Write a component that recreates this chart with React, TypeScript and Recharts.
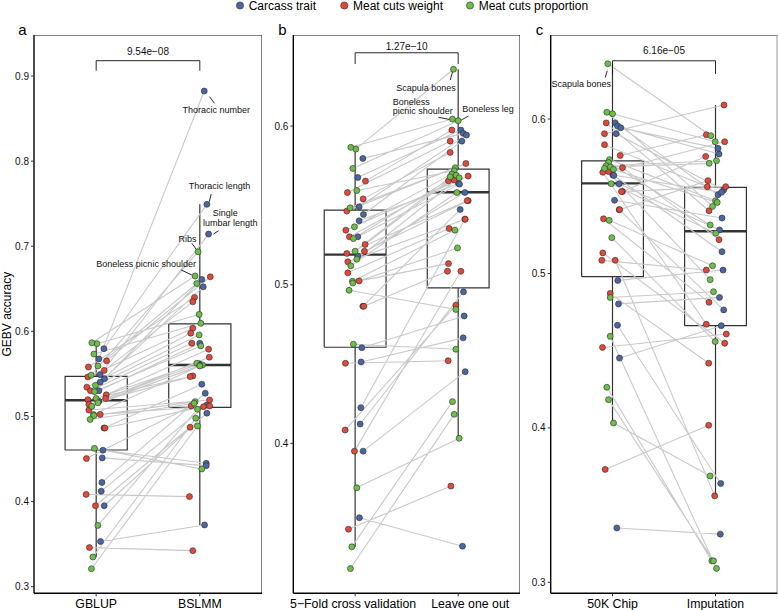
import React from 'react';
import { ComposedChart, Line, Scatter, XAxis, YAxis } from 'recharts';

const FONT = '"Liberation Sans", Arial, Helvetica, sans-serif';

const groupNames = ['Carcass trait', 'Meat cuts weight', 'Meat cuts proportion'];
const groupColors = ['#4B67A3', '#E1493A', '#6CBF49'];

// 0 = carcass trait, 1 = meat cuts weight, 2 = meat cuts proportion
const traitGroup = [
  2, 2, 2, 2, 2, 2, 2, 2, 2, 2, 2, 2, 2, 2, 2, 2, 2,
  0, 0, 0, 0, 0, 0, 0, 0, 0, 0, 0, 0, 0, 0,
  1, 1, 1, 1, 1, 1, 1, 1, 1, 1, 1, 1, 1, 1, 1, 1, 1,
];

// GBLUP = 5-fold cross validation
const gblupAcc = [
  0.5855, 0.5866, 0.5733, 0.5485, 0.5594, 0.5365, 0.5291, 0.5211, 0.5161, 0.5119, 0.5022, 0.5011, 0.4965, 0.4625, 0.372, 0.3348, 0.3211,
  0.5676, 0.5796, 0.5491, 0.5443, 0.5403, 0.5302, 0.518, 0.4864, 0.4225, 0.4122, 0.4603, 0.4513, 0.3951, 0.3531,
  0.5653, 0.5581, 0.5541, 0.5464, 0.5344, 0.5302, 0.5254, 0.5211, 0.5197, 0.5144, 0.5075, 0.5024, 0.4864, 0.4505, 0.4084, 0.3951, 0.3459,
];
const bslmmAcc = [
  0.6199, 0.665, 0.6094, 0.6935, 0.6562, 0.5958, 0.5829, 0.5625, 0.5605, 0.56, 0.5593, 0.5174, 0.5155, 0.4383, 0.5085, 0.4979, 0.4888,
  0.8824, 0.7492, 0.7143, 0.661, 0.6523, 0.586, 0.5618, 0.5378, 0.5273, 0.5135, 0.445, 0.4422, 0.5038, 0.3725,
  0.6641, 0.6399, 0.6347, 0.6036, 0.5978, 0.586, 0.579, 0.5696, 0.5476, 0.5468, 0.5194, 0.5123, 0.5115, 0.5123, 0.4058, 0.4873, 0.3423,
];
// Leave one out = 50K Chip
const looAcc = [
  0.6358, 0.6044, 0.6034, 0.5737, 0.5718, 0.5697, 0.569, 0.568, 0.5674, 0.5581, 0.5344, 0.5232, 0.4844, 0.4593, 0.4032, 0.4263, 0.4183,
  0.5975, 0.5954, 0.5943, 0.5905, 0.5638, 0.5634, 0.5581, 0.5474, 0.5413, 0.4955, 0.4803, 0.4665, 0.4452, 0.3352,
  0.5975, 0.5905, 0.5834, 0.5764, 0.5685, 0.566, 0.5655, 0.553, 0.553, 0.5413, 0.5354, 0.5133, 0.5085, 0.4521, 0.4871, 0.5085, 0.3731,
];
const imputationAcc = [
  0.5892, 0.5434, 0.5853, 0.5471, 0.5314, 0.573, 0.5713, 0.496, 0.546, 0.526, 0.505, 0.4559, 0.4882, 0.309, 0.3689, 0.3139, 0.3139,
  0.551, 0.5773, 0.581, 0.554, 0.5525, 0.5141, 0.5282, 0.5359, 0.4764, 0.5022, 0.4845, 0.364, 0.4662, 0.3312,
  0.5406, 0.6091, 0.5562, 0.5898, 0.5219, 0.5853, 0.4671, 0.5758, 0.5562, 0.5601, 0.4813, 0.4548, 0.5022, 0.4608, 0.4419, 0.356, 0.4017,
];

// horizontal jitter of each point (hundredths of a category step)
const gblupJitter = [
  0.7, -4.3, -2.3, -5, 1.7, -0.7, -1.7, 0, 1.7, -4.3, -2.7, -2.3, -6, -1.7, 1.7, -3.3, -4.7,
  2.7, 7.7, 4, 8.3, 4, 2.7, 2.7, 7.7, 5.7, 5, 6.7, 6, 8, 4.3,
  10.3, -7.7, 8, -8.3, -9.3, -5.7, 10, 9.3, -8.3, -7.3, -7.3, 4, 8.7, -9.7, -10, -0.7, -6.7,
];
const bslmmJitter = [
  -0.7, -4.7, 1, -1.7, -3, -0.7, 1, -3, 2.7, 0, 0, -4.7, -5.7, 2, -2.3, -4, -2.3,
  4.4, 7, 8.7, 2, 3.4, 0, -0.6, 2, 5.4, 7, 6.4, 6.4, 7, 4.7,
  10.4, -5.3, -7, -7, -9, -8, 8.7, 9.4, -7, -9.6, 9.7, 9.7, 3.7, -8.6, -10.3, -9.6, -7,
];
const looJitter = [
  -4.7, -5.7, 0, -3, -4, -6.3, -2, -8, 1, -1.3, -3.3, -0.7, -2.3, -2.3, 1, -5.7, -4,
  2.7, 5, 8.3, 3.7, 0.3, 1.3, 6.7, 2, 6.7, 5.3, 6, 5, 7, 4.3,
  -6.3, -8, -8, 7.7, 10, -4, -9.7, 10, 9, 7, -9, -9.7, -10.7, -10, -2.3, 2.7, -7.3,
];
const imputationJitter = [
  -4.7, -3, -0.3, 0, -5.3, 1, -6.3, -5.3, 1.7, 0.3, -3, -0.3, -2, 1, -5.3, -3.7, -2,
  2.5, 3.5, 2.5, 8.2, 6, 6.5, 4, 6.5, 8.2, 7.5, 4, 5.2, 5.8, 4.8,
  -6.5, 8.5, -8.2, -9.2, 3.5, 9.2, -9.2, -9.8, 10.2, -7.5, -6.5, 9.2, -9.2, 10.8, -6.8, -0.8, -6.8,
];

// box stats: [lower whisker, Q1, median, Q3, upper whisker]
const gblupBox = [0.3348, 0.4606, 0.519, 0.547, 0.5866];
const bslmmBox = [0.3725, 0.5107, 0.5605, 0.6087, 0.7492];
const looBox = [0.4032, 0.498, 0.5583, 0.5729, 0.6358];
const imputationBox = [0.356, 0.4662, 0.5273, 0.5557, 0.6091];

const pValues = ['9.54e\u221208', '1.27e\u221210', '6.16e\u221205'];

const notesA = [
  { x: 2.158, y: 0.86, text: 'Thoracic number', anchor: 'middle' },
  { x: 2.19, y: 0.7711, text: 'Thoracic length', anchor: 'middle' },
  { x: 2.245, y: 0.7398, text: 'Single', anchor: 'middle' },
  { x: 2.294, y: 0.7269, text: 'lumbar length', anchor: 'middle' },
  { x: 1.881, y: 0.7081, text: 'Ribs', anchor: 'middle' },
  { x: 1.482, y: 0.6791, text: 'Boneless picnic shoulder', anchor: 'middle' },
];
const leadersA = [
  [2.094, 0.8757, 2.142, 0.8679],
  [2.11, 0.7613, 2.091, 0.7523],
  [2.132, 0.7144, 2.181, 0.7182],
  [1.924, 0.7034, 1.965, 0.6964],
  [1.82, 0.6721, 1.924, 0.6662],
];
const notesB = [
  { x: 1.687, y: 0.6244, text: 'Scapula bones', anchor: 'middle' },
  { x: 1.366, y: 0.6153, text: 'Boneless', anchor: 'start' },
  { x: 1.366, y: 0.6096, text: 'picnic shoulder', anchor: 'start' },
  { x: 2.289, y: 0.6107, text: 'Boneless leg', anchor: 'middle' },
];
const leadersB = [
  [1.945, 0.6342, 1.923, 0.629],
  [1.809, 0.6055, 1.945, 0.6038],
  [2.03, 0.6038, 2.1, 0.6063],
];
const notesC = [{ x: 0.697, y: 0.623, text: 'Scapula bones', anchor: 'middle' }];
const leadersC = [[0.949, 0.6313, 0.93, 0.6269]];

const JIT = 1 / 103;
const HALF_BOX = 0.3;

const dotShape = (color: string) => (p: any) =>
  <circle cx={p.cx} cy={p.cy} r={3} fill={color} stroke="#2a2a2a" strokeWidth={0.6} />;

const textShape = (size: number) => (p: any) => (
  <text x={p.cx} y={p.cy} dy="0.35em" textAnchor={p.payload.anchor} fontSize={size} fontFamily={FONT} fill="#111">
    {p.payload.text}
  </text>
);

function Panel(props: any) {
  const { width, yW, mRight, domain, ticks, cats, catShift, lv, lj, rv, rj, lbox, rbox, pText, pY, bracket, notes, leaders, yLabel } = props;
  const [lo, hi] = domain;

  const connectors: any[] = [];
  lv.forEach((v: number, i: number) => {
    connectors.push({ x: 1 + lj[i] * JIT, y: v });
    connectors.push({ x: 2 + rj[i] * JIT, y: rv[i] });
    connectors.push({ x: 1.5, y: null });
  });

  const groupPts = [0, 1, 2].map((g) => {
    const pts: any[] = [];
    lv.forEach((v: number, i: number) => {
      if (traitGroup[i] === g) {
        pts.push({ x: 1 + lj[i] * JIT, y: v });
        pts.push({ x: 2 + rj[i] * JIT, y: rv[i] });
      }
    });
    return pts;
  });

  const boxRect = (c: number, s: number[]) => [
    { x: c - HALF_BOX, y: s[1] }, { x: c + HALF_BOX, y: s[1] }, { x: c + HALF_BOX, y: s[3] },
    { x: c - HALF_BOX, y: s[3] }, { x: c - HALF_BOX, y: s[1] },
  ];
  const median = (c: number, s: number[]) => [{ x: c - HALF_BOX, y: s[2] }, { x: c + HALF_BOX, y: s[2] }];
  const whisk = (c: number, s: number[]) => [
    { x: c, y: s[4] }, { x: c, y: s[3] }, { x: c, y: null }, { x: c, y: s[1] }, { x: c, y: s[0] },
  ];

  const frame = [{ x: 0.4, y: hi }, { x: 2.6, y: hi }, { x: 2.6, y: lo }];
  const bracketPts = [{ x: 1, y: bracket[0] }, { x: 1, y: bracket[1] }, { x: 2, y: bracket[1] }, { x: 2, y: bracket[0] }];
  const leaderPts: any[] = [];
  leaders.forEach((l: number[]) => {
    leaderPts.push({ x: l[0], y: l[1] });
    leaderPts.push({ x: l[2], y: l[3] });
    leaderPts.push({ x: l[2], y: null });
  });

  const lineProps = { type: 'linear' as const, dataKey: 'y', dot: false, activeDot: false, isAnimationActive: false, connectNulls: false, legendType: 'none' as const };

  const renderXTick = (p: any) => {
    const idx = Math.round(p.payload.value) - 1;
    return (
      <text x={p.x + (catShift ? catShift[idx] : 0)} y={p.y} dy="0.71em" textAnchor="middle" fontSize={12.3} fontFamily={FONT} fill="#000">
        {cats[idx]}
      </text>
    );
  };

  return (
    <ComposedChart width={width} height={610} margin={{ top: 35, right: mRight, bottom: 0, left: 0 }}>
      <XAxis
        type="number" dataKey="x" domain={[0.4, 2.6]} ticks={[1, 2]} allowDataOverflow interval={0}
        height={16.7} tickSize={3} tickMargin={3.3}
        axisLine={{ stroke: '#000', strokeWidth: 1.4 }} tickLine={{ stroke: '#333' }}
        tick={renderXTick}
      />
      <YAxis
        type="number" dataKey="y" domain={domain} ticks={ticks} allowDataOverflow interval={0}
        tickFormatter={(v: number) => v.toFixed(1)} width={yW} tickSize={3} tickMargin={2}
        axisLine={{ stroke: '#000', strokeWidth: 1.4 }} tickLine={{ stroke: '#333' }}
        tick={{ fontSize: 10, fill: '#111', fontFamily: FONT }}
        label={yLabel ? { value: 'GEBV accuracy', angle: -90, position: 'insideLeft', offset: 6.5, style: { textAnchor: 'middle', fontSize: 12, fontFamily: FONT, fill: '#000' } } : undefined}
      />
      <Line {...lineProps} data={frame} stroke="#111" strokeWidth={1} />
      <Line {...lineProps} data={boxRect(1, lbox)} stroke="#333" strokeWidth={1.2} />
      <Line {...lineProps} data={boxRect(2, rbox)} stroke="#333" strokeWidth={1.2} />
      <Line {...lineProps} data={whisk(1, lbox)} stroke="#333" strokeWidth={1.2} />
      <Line {...lineProps} data={whisk(2, rbox)} stroke="#333" strokeWidth={1.2} />
      <Line {...lineProps} data={median(1, lbox)} stroke="#333" strokeWidth={2.4} />
      <Line {...lineProps} data={median(2, rbox)} stroke="#333" strokeWidth={2.4} />
      <Line {...lineProps} data={connectors} stroke="#C9C9C9" strokeWidth={1.1} />
      <Line {...lineProps} data={bracketPts} stroke="#111" strokeWidth={0.9} />
      <Line {...lineProps} data={leaderPts} stroke="#111" strokeWidth={0.9} />
      {groupPts.map((pts, g) => (
        <Scatter key={g} data={pts} isAnimationActive={false} shape={dotShape(groupColors[g])} legendType="none" />
      ))}
      <Scatter data={notes} isAnimationActive={false} shape={textShape(9)} legendType="none" />
      <Scatter data={[{ x: 1.5, y: pY, text: pText, anchor: 'middle' }]} isAnimationActive={false} shape={textShape(10)} legendType="none" />
    </ComposedChart>
  );
}

export default function App() {
  const legendX = [240, 344.3, 470];
  return (
    <div style={{ position: 'absolute', left: 0, top: 0, width: 778, height: 610, background: '#fff', fontFamily: FONT }}>
      <div style={{ position: 'absolute', left: 0, top: 0 }}>
        <Panel
          width={262} yW={34} mRight={0} domain={[0.2922, 0.9482]} ticks={[0.3, 0.4, 0.5, 0.6, 0.7, 0.8, 0.9]}
          cats={['GBLUP', 'BSLMM']} lv={gblupAcc} lj={gblupJitter} rv={bslmmAcc} rj={bslmmJitter}
          lbox={gblupBox} rbox={bslmmBox} pText={pValues[0]} pY={0.9285} bracket={[0.9062, 0.918]}
          notes={notesA} leaders={leadersA} yLabel
        />
      </div>
      <div style={{ position: 'absolute', left: 262, top: 0 }}>
        <Panel
          width={258} yW={31.3} mRight={0} domain={[0.3055, 0.6574]} ticks={[0.4, 0.5, 0.6]}
          cats={['5\u2212Fold cross validation', 'Leave one out']} catShift={[-2, 12]}
          lv={gblupAcc} lj={gblupJitter} rv={looAcc} rj={looJitter}
          lbox={gblupBox} rbox={looBox} pText={pValues[1]} pY={0.6504} bracket={[0.6391, 0.6462]}
          notes={notesB} leaders={leadersB}
        />
      </div>
      <div style={{ position: 'absolute', left: 520, top: 0 }}>
        <Panel
          width={258} yW={30.7} mRight={0.7} domain={[0.2929, 0.6544]} ticks={[0.3, 0.4, 0.5, 0.6]}
          cats={['50K Chip', 'Imputation']} lv={looAcc} lj={looJitter} rv={imputationAcc} rj={imputationJitter}
          lbox={looBox} rbox={imputationBox} pText={pValues[2]} pY={0.6442} bracket={[0.6291, 0.6377]}
          notes={notesC} leaders={leadersC}
        />
      </div>
      <svg width={778} height={40} style={{ position: 'absolute', left: 0, top: 0, overflow: 'visible' }}>
        {groupNames.map((name, g) => (
          <g key={name}>
            <circle cx={legendX[g]} cy={5.5} r={3.6} fill={groupColors[g]} stroke="#2a2a2a" strokeWidth={0.6} />
            <text x={legendX[g] + 8.7} y={9.6} fontSize={12} fontFamily={FONT} fill="#000">{name}</text>
          </g>
        ))}
        <text x={18.3} y={35} fontSize={15} fontFamily={FONT} fill="#000">a</text>
        <text x={278.3} y={35} fontSize={15} fontFamily={FONT} fill="#000">b</text>
        <text x={535.7} y={35} fontSize={15} fontFamily={FONT} fill="#000">c</text>
      </svg>
    </div>
  );
}
